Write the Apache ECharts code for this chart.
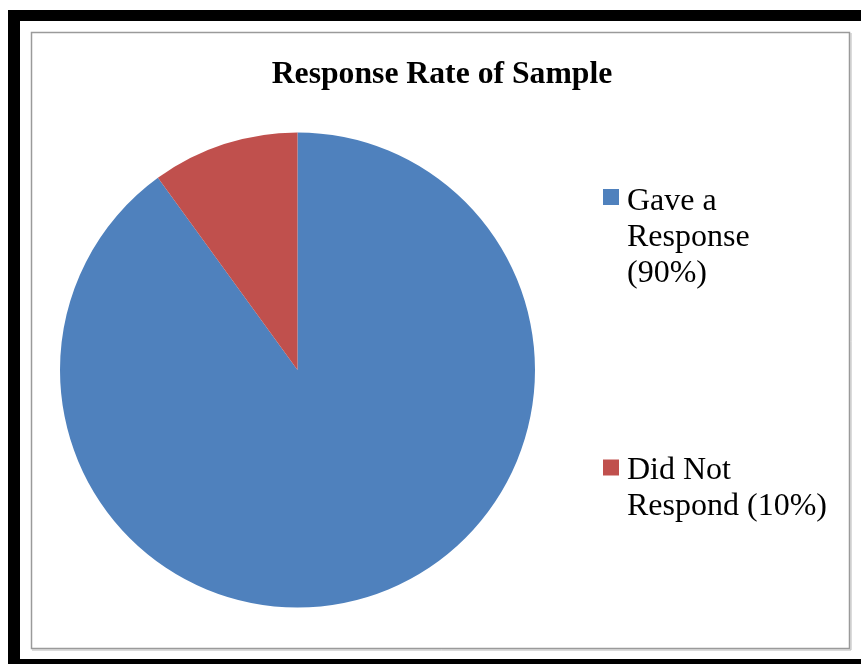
<!DOCTYPE html>
<html>
<head>
<meta charset="utf-8">
<script src="https://cdn.jsdelivr.net/npm/echarts@6/dist/echarts.min.js"></script>
<style>
  html, body { margin: 0; padding: 0; background: #ffffff; }
  #chart { width: 861px; height: 664px; }
</style>
</head>
<body>
<div id="chart"></div>
<script>
// Survey response split
const chartTitle = 'Response Rate of Sample';
const categories = ['Gave a Response', 'Did Not Respond'];
const values = [90, 10];
const legendLabels = ['Gave a\nResponse\n(90%)', 'Did Not\nRespond (10%)'];
const colors = ['#4F81BD', '#C0504D'];

const chart = echarts.init(document.getElementById('chart'), null, { renderer: 'canvas' });

const LINE_H = 36;
const FONT = '"Liberation Serif", "Times New Roman", serif';

// Legend entry whose square sits beside the first text line:
// a leading spacer line pushes the wrapped text block down.
function legendFor(i, top, spacer) {
  const body = legendLabels[i].split('\n').map(s => '{t|' + s + '}').join('\n');
  return {
    data: [categories[i]],
    left: 603,
    top: top,
    orient: 'vertical',
    icon: 'rect',
    itemWidth: 16,
    itemHeight: 16,
    selectedMode: false,
    padding: 0,
    formatter: () => '{sp| }\n' + body,
    textStyle: {
      fontFamily: FONT,
      fontSize: 32,
      color: '#000000',
      rich: {
        sp: { fontSize: 10, lineHeight: spacer },
        t: { fontFamily: FONT, fontSize: 32, color: '#000000', lineHeight: LINE_H, padding: [0, 0, 0, 3] }
      }
    }
  };
}

chart.setOption({
  animation: false,
  backgroundColor: '#ffffff',
  title: {
    text: chartTitle,
    left: 437,
    textAlign: 'center',
    top: 54,
    textStyle: {
      fontFamily: FONT,
      fontWeight: 'bold',
      fontSize: 31.7,
      color: '#000000'
    }
  },
  legend: [legendFor(0, 138, 82), legendFor(1, 426.5, 43)],
  graphic: [
    // heavy black page frame (open on the right)
    { type: 'rect', shape: { x: 8, y: 10, width: 860, height: 11 }, style: { fill: '#000000' }, silent: true },
    { type: 'rect', shape: { x: 8, y: 10, width: 12, height: 660 }, style: { fill: '#000000' }, silent: true },
    { type: 'rect', shape: { x: 8, y: 659, width: 860, height: 10 }, style: { fill: '#000000' }, silent: true },
    // chart area border
    { type: 'rect', shape: { x: 31.5, y: 32.5, width: 818, height: 616 },
      style: { fill: 'none', stroke: '#9a9a9a', lineWidth: 1.5 }, silent: true },
    { type: 'polyline', shape: { points: [[851, 33], [851, 650], [32, 650]] },
      style: { fill: 'none', stroke: '#b8b8b8', lineWidth: 1 }, silent: true }
  ],
  series: [{
    type: 'pie',
    center: [297.5, 370],
    radius: 237.5,
    startAngle: 90,
    clockwise: true,
    label: { show: false },
    labelLine: { show: false },
    emphasis: { disabled: true },
    itemStyle: { borderWidth: 0 },
    data: categories.map((name, i) => ({
      name: name,
      value: values[i],
      itemStyle: { color: colors[i] }
    }))
  }]
});
</script>
</body>
</html>
